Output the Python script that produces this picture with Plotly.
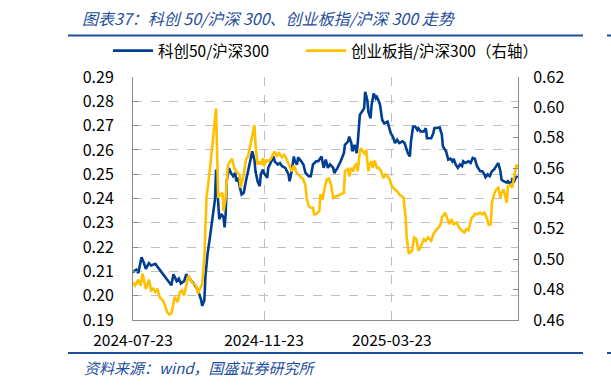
import pandas as pd
import plotly.graph_objects as go

START = "2024-07-23"

# 科创50/沪深300 (left axis): day offsets from 2024-07-23 and values
kc_days = [0, 3, 5, 8, 10, 12, 15, 17, 21, 25, 30, 34, 36, 38, 41, 43, 45, 48, 50, 53,
           57, 61, 64, 65, 67, 68, 70, 72, 75, 77, 78, 80, 81, 83, 85, 86, 87, 88, 90, 92,
           94, 96, 97, 99, 100, 102, 104, 106, 108, 109, 111, 112, 114, 115, 117, 119, 120, 122, 123, 126,
           127, 130, 132, 133, 136, 138, 140, 143, 146, 147, 149, 151, 152, 154, 155, 158, 160, 162, 165, 167,
           169, 172, 174, 177, 179, 181, 183, 185, 188, 189, 192, 195, 198, 199, 202, 203, 205, 206, 208, 210,
           211, 213, 215, 217, 218, 220, 221, 223, 224, 226, 228, 229, 231, 232, 234, 236, 239, 240, 242, 244,
           246, 248, 250, 253, 255, 257, 258, 260, 261, 263, 265, 267, 268, 270, 273, 275, 276, 280, 282, 283,
           286, 288, 290, 291, 294, 296, 298, 300, 301, 303, 305, 307, 309, 310, 312, 315, 317, 319, 321, 323,
           326, 328, 330, 331, 333, 335, 337, 339, 341, 343, 345, 346, 348, 351, 352, 355, 356, 358, 360, 361]
kc_vals = [0.2097, 0.2107, 0.2093, 0.2158, 0.2138, 0.2111, 0.2134, 0.2124, 0.2131, 0.2108,
           0.2077, 0.2056, 0.2043, 0.2088, 0.2060, 0.2070, 0.2050, 0.2060, 0.2088, 0.2070,
           0.2050, 0.2022, 0.1982, 0.1958, 0.1982, 0.2077, 0.2172, 0.2233, 0.2322, 0.2397,
           0.2519, 0.2403, 0.2315, 0.2336, 0.2322, 0.2281, 0.2336, 0.2471, 0.2526, 0.2505,
           0.2492, 0.2505, 0.2471, 0.2485, 0.2451, 0.2417, 0.2424, 0.2471, 0.2512, 0.2526,
           0.2573, 0.2594, 0.2560, 0.2512, 0.2471, 0.2451, 0.2499, 0.2519, 0.2505, 0.2485,
           0.2526, 0.2553, 0.2573, 0.2553, 0.2540, 0.2546, 0.2533, 0.2526, 0.2499, 0.2471,
           0.2512, 0.2573, 0.2553, 0.2540, 0.2569, 0.2553, 0.2540, 0.2505, 0.2492, 0.2492,
           0.2540, 0.2553, 0.2553, 0.2573, 0.2526, 0.2560, 0.2526, 0.2540, 0.2526, 0.2505,
           0.2526, 0.2553, 0.2587, 0.2621, 0.2635, 0.2655, 0.2628, 0.2594, 0.2621, 0.2587,
           0.2628, 0.2744, 0.2757, 0.2771, 0.2839, 0.2805, 0.2757, 0.2730, 0.2784, 0.2832,
           0.2812, 0.2818, 0.2798, 0.2784, 0.2723, 0.2709, 0.2716, 0.2703, 0.2669, 0.2655,
           0.2628, 0.2642, 0.2628, 0.2635, 0.2628, 0.2601, 0.2587, 0.2573, 0.2635, 0.2696,
           0.2696, 0.2682, 0.2689, 0.2676, 0.2676, 0.2689, 0.2648, 0.2648, 0.2669, 0.2689,
           0.2692, 0.2692, 0.2662, 0.2614, 0.2594, 0.2560, 0.2564, 0.2553, 0.2564, 0.2540,
           0.2526, 0.2540, 0.2533, 0.2553, 0.2546, 0.2553, 0.2546, 0.2567, 0.2564, 0.2533,
           0.2512, 0.2512, 0.2499, 0.2488, 0.2499, 0.2492, 0.2512, 0.2519, 0.2533, 0.2546,
           0.2512, 0.2478, 0.2471, 0.2465, 0.2471, 0.2458, 0.2478, 0.2471, 0.2492, 0.2485]

# 创业板指/沪深300 (right axis)
cy_days = [0, 2, 5, 7, 9, 12, 13, 15, 17, 19, 21, 23, 25, 28, 30, 32, 34, 36, 38, 39,
           42, 44, 46, 48, 50, 52, 54, 56, 59, 61, 63, 65, 67, 69, 72, 75, 78, 80, 82, 84,
           85, 87, 89, 91, 93, 95, 97, 100, 101, 104, 106, 108, 110, 112, 114, 115, 117, 119, 120, 122,
           123, 125, 126, 129, 131, 133, 135, 137, 140, 142, 144, 146, 149, 151, 153, 155, 158, 160, 162, 163,
           165, 167, 169, 170, 172, 175, 176, 178, 180, 182, 184, 186, 188, 192, 195, 198, 199, 202, 203, 205,
           207, 208, 210, 211, 213, 214, 216, 218, 219, 221, 222, 224, 225, 227, 229, 231, 233, 235, 237, 239,
           241, 243, 246, 248, 250, 253, 254, 256, 257, 259, 260, 262, 264, 266, 268, 270, 271, 273, 275, 277,
           280, 282, 284, 287, 289, 290, 293, 295, 297, 299, 301, 304, 306, 309, 311, 313, 315, 318, 320, 321,
           323, 326, 328, 330, 332, 334, 336, 337, 339, 341, 343, 345, 346, 348, 351, 352, 355, 356, 358, 360,
           361]
cy_vals = [0.4849, 0.4827, 0.4865, 0.4827, 0.4904, 0.4806, 0.4821, 0.4865, 0.4795, 0.4806,
           0.4784, 0.4806, 0.4751, 0.4729, 0.4697, 0.4653, 0.4636, 0.4642, 0.4708, 0.4751,
           0.4718, 0.4784, 0.4795, 0.4762, 0.4827, 0.4893, 0.4865, 0.4843, 0.4827, 0.4773,
           0.4806, 0.4839, 0.5012, 0.5405, 0.5579, 0.5797, 0.5993, 0.5405, 0.5427, 0.5437,
           0.5318, 0.5405, 0.5612, 0.5644, 0.5662, 0.5601, 0.5579, 0.5558, 0.5470, 0.5558,
           0.5656, 0.5677, 0.5742, 0.5829, 0.5884, 0.5754, 0.5623, 0.5644, 0.5623, 0.5666,
           0.5612, 0.5656, 0.5644, 0.5656, 0.5688, 0.5710, 0.5677, 0.5699, 0.5671, 0.5688,
           0.5662, 0.5633, 0.5579, 0.5618, 0.5579, 0.5558, 0.5535, 0.5525, 0.5481, 0.5405,
           0.5350, 0.5339, 0.5339, 0.5296, 0.5296, 0.5318, 0.5427, 0.5394, 0.5470, 0.5525,
           0.5531, 0.5492, 0.5405, 0.5416, 0.5427, 0.5437, 0.5579, 0.5594, 0.5546, 0.5601,
           0.5579, 0.5612, 0.5633, 0.5579, 0.5710, 0.5731, 0.5710, 0.5688, 0.5721, 0.5579,
           0.5623, 0.5644, 0.5601, 0.5649, 0.5601, 0.5601, 0.5579, 0.5535, 0.5558, 0.5546,
           0.5525, 0.5481, 0.5459, 0.5448, 0.5427, 0.5409, 0.5405, 0.5274, 0.5143, 0.5035,
           0.5045, 0.5056, 0.5143, 0.5133, 0.5056, 0.5078, 0.5100, 0.5133, 0.5122, 0.5143,
           0.5122, 0.5165, 0.5187, 0.5209, 0.5231, 0.5274, 0.5307, 0.5274, 0.5231, 0.5263,
           0.5231, 0.5242, 0.5209, 0.5187, 0.5176, 0.5198, 0.5192, 0.5274, 0.5285, 0.5300,
           0.5296, 0.5307, 0.5296, 0.5307, 0.5274, 0.5226, 0.5231, 0.5372, 0.5427, 0.5459,
           0.5470, 0.5405, 0.5437, 0.5459, 0.5372, 0.5481, 0.5492, 0.5470, 0.5535, 0.5623,
           0.5601]

x_ticks = ["2024-07-23", "2024-11-23", "2025-03-23"]
x_range = ["2024-07-23", "2025-07-19 12:00"]
left_range = [0.19, 0.29]
right_range = [0.46, 0.62]

names = ["科创50/沪深300", "创业板指/沪深300（右轴）"]
title_text = "图表37：科创 50/沪深 300、创业板指/沪深 300 走势"
source_text = "资料来源：wind，国盛证券研究所"

BLUE = "#003E92"
YELLOW = "#FFC000"
TITLE_BLUE = "#1F4E9C"
GRID = "#BFBFBF"
AXIS = "#8C8C8C"
FONT = "Noto Sans CJK SC"

start = pd.Timestamp(START)
kc_dates = [start + pd.Timedelta(days=d) for d in kc_days]
cy_dates = [start + pd.Timedelta(days=d) for d in cy_days]

fig = go.Figure()
fig.add_trace(go.Scatter(x=kc_dates, y=kc_vals, name=names[0], mode="lines",
                         line=dict(color=BLUE, width=2.6), legend="legend"))
fig.add_trace(go.Scatter(x=cy_dates, y=cy_vals, name=names[1], mode="lines",
                         line=dict(color=YELLOW, width=2.6), yaxis="y2", legend="legend2"))

leg_common = dict(orientation="h", yanchor="middle", xanchor="left",
                  font=dict(size=15.5, color="#000000"), bgcolor="rgba(0,0,0,0)", itemwidth=40)

fig.update_layout(
    width=611, height=386,
    margin=dict(l=133, r=93, t=77, b=66, pad=0),
    paper_bgcolor="white", plot_bgcolor="white",
    font=dict(family=FONT, size=15, color="#000000"),
    showlegend=True,
    legend=dict(x=(108 - 133) / 385, y=(320 - 51) / 243, **leg_common),
    legend2=dict(x=(301 - 133) / 385, y=(320 - 51) / 243, **leg_common),
    xaxis=dict(type="date", range=x_range, tickvals=x_ticks, ticktext=x_ticks,
               showgrid=True, gridcolor=GRID, griddash="dash", gridwidth=1,
               showline=True, linecolor=AXIS, linewidth=1, ticks="", ticklabelstandoff=6,
               tickfont=dict(size=15.5), zeroline=False),
    yaxis=dict(range=left_range, dtick=0.01, tickformat=".2f",
               showgrid=True, gridcolor=GRID, griddash="dash", gridwidth=1,
               showline=True, linecolor=AXIS, linewidth=1, ticks="inside", ticklen=5,
               tickcolor=AXIS, ticklabelstandoff=15, tickfont=dict(size=16), zeroline=False),
    yaxis2=dict(range=right_range, dtick=0.02, tickformat=".2f", overlaying="y", side="right",
                showgrid=False, showline=True, linecolor=AXIS, linewidth=1, ticks="inside",
                ticklen=5, tickcolor=AXIS, ticklabelstandoff=11, tickfont=dict(size=16),
                zeroline=False),
)

# title, rules and source
fig.add_annotation(text=title_text, xref="paper", yref="paper", x=(80 - 133) / 385,
                   y=(320 - 18) / 243, xanchor="left", yanchor="middle", showarrow=False,
                   font=dict(family=FONT, size=16, color=TITLE_BLUE, style="italic"))
fig.add_annotation(text=source_text, xref="paper", yref="paper", x=(82 - 133) / 385,
                   y=(320 - 367) / 243, xanchor="left", yanchor="middle", showarrow=False,
                   font=dict(family=FONT, size=15, color=TITLE_BLUE, style="italic"))
for ypix in (35.5, 353):
    yy = (320 - ypix) / 243
    fig.add_shape(type="line", xref="paper", yref="paper", x0=(68 - 133) / 385,
                  x1=(583 - 133) / 385, y0=yy, y1=yy, line=dict(color=TITLE_BLUE, width=2))
    fig.add_shape(type="line", xref="paper", yref="paper", x0=(607 - 133) / 385,
                  x1=(615 - 133) / 385, y0=yy, y1=yy, line=dict(color=TITLE_BLUE, width=2))

fig.write_html("out.html")
